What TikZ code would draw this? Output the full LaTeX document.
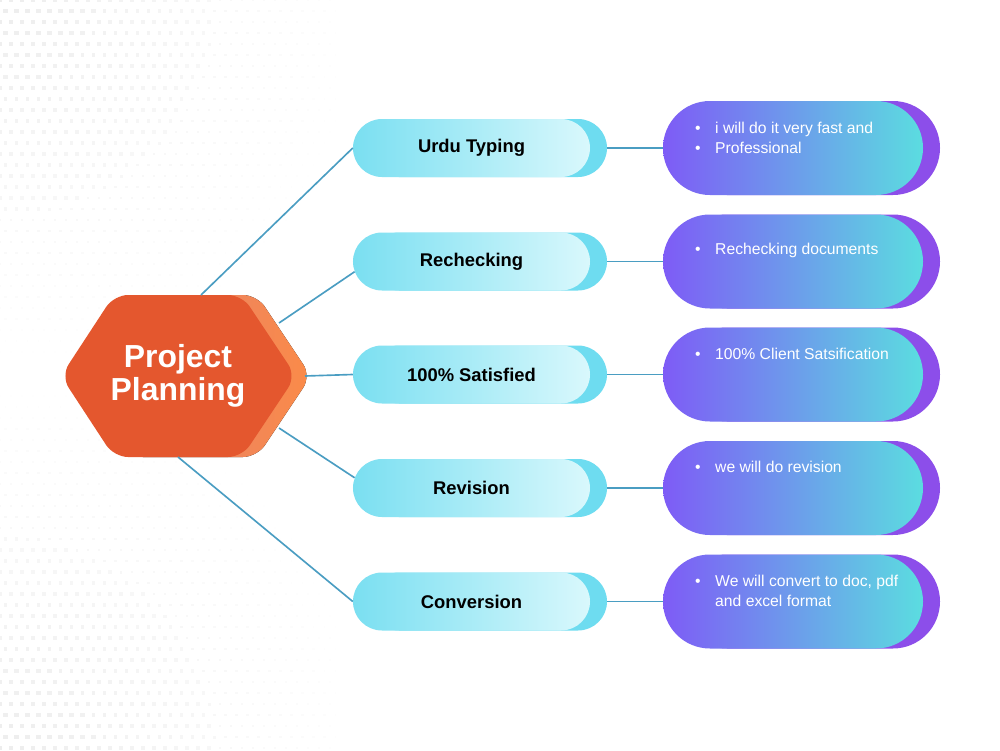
\documentclass[tikz,border=0pt]{standalone}
\usepackage{fontspec}
\setmainfont{Liberation Sans}
\usepackage{tikz}
\usetikzlibrary{shapes.misc}

\definecolor{hubfront}{HTML}{E4572E}
\definecolor{hubbackL}{HTML}{D97B80}
\definecolor{hubbackR}{HTML}{FB8B48}
\definecolor{linkblue}{HTML}{4A9DC2}
\definecolor{pillback}{HTML}{6EDCF0}
\definecolor{pillL}{HTML}{7ADFF1}
\definecolor{pillR}{HTML}{D9F8FC}
\definecolor{noteback}{HTML}{8C4EEA}
\definecolor{noteL}{HTML}{7E5BF6}
\definecolor{noteR}{HTML}{5BDDE0}

\tikzset{
  link/.style={draw=linkblue,line width=1.4pt},
  pill/.style={rounded rectangle,minimum width=7.11cm,minimum height=1.74cm,inner sep=0pt},
  pillfront/.style={pill,left color=pillL,right color=pillR,font=\bfseries\fontsize{15.7}{18}\selectfont},
  pillrear/.style={pill,fill=pillback},
  note/.style={rounded rectangle,minimum width=7.8cm,minimum height=2.82cm,inner sep=0pt},
  notefront/.style={note,left color=noteL,right color=noteR},
  noterear/.style={note,fill=noteback},
  notetext/.style={anchor=west,inner sep=0pt,text=white,align=left,font=\fontsize{13.4}{17}\selectfont}
}
\newcommand{\itm}[1]{\makebox[0.6cm][l]{\textbullet}#1}
\newcommand{\gap}{\hspace*{0.6cm}}

\begin{document}
\begin{tikzpicture}[x=0.03cm,y=-0.03cm]
		\useasboundingbox[fill=white] (0,0) rectangle (1000,750);
		%
		\foreach \i in {0,...,30}{
		  \foreach \j in {0,...,68}{
		    \pgfmathsetmacro\dx{\i*11+mod(\j,2)*5.5}
		    \pgfmathsetmacro\dy{\j*11}
		    \pgfmathsetmacro\fade{max(0,1-veclen(\dx,\dy)/380,1-veclen(\dx,750-\dy)/380)}
		    \ifdim\fade pt>0.05pt
		      \pgfmathsetmacro\tone{7*\fade}
		      \pgfmathsetmacro\half{0.8+1.6*\fade}
		      \fill[black!\tone] (\dx-\half,\dy-\half) rectangle (\dx+\half,\dy+\half);
		    \fi
		  }
		}
		%
		\fill[left color=hubbackL,right color=hubbackR,rounded corners=0.42cm]
		  (76,376) -- (129,295) -- (257,295) -- (311,376) -- (257,457) -- (129,457) -- cycle;
		\fill[hubfront,rounded corners=0.42cm]
		  (61,376) -- (114,295) -- (242,295) -- (296,376) -- (242,457) -- (114,457) -- cycle;
		\node[text=white,align=center,font=\bfseries\fontsize{27.2}{28}\selectfont] (hub) at (178,376) {Project\\Planning};
		%
		\coordinate (h1) at (201,295);
		\coordinate (h2) at (279,323);
		\coordinate (h3) at (305,376);
		\coordinate (h4) at (279,428);
		\coordinate (h5) at (178,457);
		%
		\node[pillrear] (u1b) at (488.5,148) {};
		\node[pillrear] (u2b) at (488.5,261.5) {};
		\node[pillrear] (u3b) at (488.5,374.5) {};
		\node[pillrear] (u4b) at (488.5,488) {};
		\node[pillrear] (u5b) at (488.5,601.5) {};
		\node[pillfront] (u1) at (471.5,148) {Urdu Typing};
		\node[pillfront] (u2) at (471.5,261.5) {Rechecking};
		\node[pillfront] (u3) at (471.5,374.5) {100\% Satisfied};
		\node[pillfront] (u4) at (471.5,488) {Revision};
		\node[pillfront] (u5) at (471.5,601.5) {Conversion};
		%
		\node[noterear] (r1b) at (810,148) {};
		\node[noterear] (r2b) at (810,261.5) {};
		\node[noterear] (r3b) at (810,374.5) {};
		\node[noterear] (r4b) at (810,488) {};
		\node[noterear] (r5b) at (810,601.5) {};
		\node[notefront] (r1) at (793,148) {};
		\node[notefront] (r2) at (793,261.5) {};
		\node[notefront] (r3) at (793,374.5) {};
		\node[notefront] (r4) at (793,488) {};
		\node[notefront] (r5) at (793,601.5) {};
		%
		\node[notetext] (t1) at (695,138) {\itm{i will do it very fast and}\\\itm{Professional}};
		\node[notetext] (t2) at (695,250) {\itm{Rechecking documents}};
		\node[notetext] (t3) at (695,354) {\itm{100\% Client Satsification}};
		\node[notetext] (t4) at (695,467) {\itm{we will do revision}};
		\node[notetext] (t5) at (695,591) {\itm{We will convert to doc, pdf}\\\gap and excel format};
		%
		\path[link]
		(h1) edge (u1.west)
		(h2) edge (u2.185)
		(h3) edge (u3.west)
		(h4) edge (u4.175)
		(h5) edge (u5.west)
		(u1b.east) edge (r1.west)
		(u2b.east) edge (r2.west)
		(u3b.east) edge (r3.west)
		(u4b.east) edge (r4.west)
		(u5b.east) edge (r5.west);
\end{tikzpicture}
\end{document}
